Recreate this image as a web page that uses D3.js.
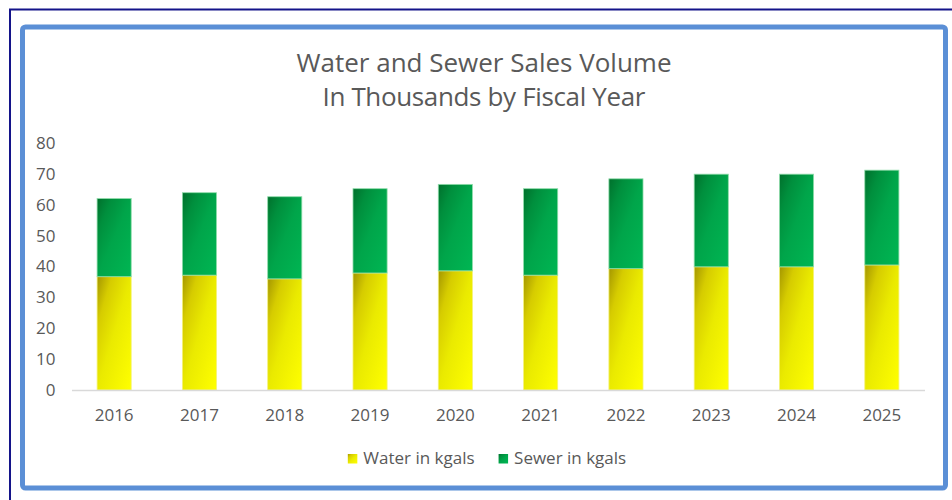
<!DOCTYPE html>
<html>
<head>
<meta charset="utf-8">
<script src="https://cdn.jsdelivr.net/npm/d3@7"></script>
<style>
  html, body { margin: 0; padding: 0; background: #ffffff; }
  svg { display: block; }
  text { font-family: "Open Sans", sans-serif; fill: #595959; }
</style>
</head>
<body>
<svg id="chart" width="952" height="500"></svg>
<script>
// ---- data ----
const years = ["2016", "2017", "2018", "2019", "2020", "2021", "2022", "2023", "2024", "2025"];
const water = [36.7, 37.2, 36.0, 37.9, 38.6, 37.2, 39.3, 39.9, 39.9, 40.5];
const sewer = [25.3, 26.7, 26.6, 27.3, 28.0, 28.0, 29.1, 30.0, 30.0, 30.7];
const seriesNames = ["Water in kgals", "Sewer in kgals"];
const yTicks = [0, 10, 20, 30, 40, 50, 60, 70, 80];
const titleLines = ["Water and Sewer Sales Volume", "In Thousands by Fiscal Year"];

// ---- layout ----
const svg = d3.select("#chart");
const plot = { left: 71.5, right: 924.5, top: 143, bottom: 390 };

// outer navy line (only top and left visible)
svg.append("rect")
  .attr("x", 10).attr("y", 9.5).attr("width", 960).attr("height", 520)
  .attr("fill", "none").attr("stroke", "#14148a").attr("stroke-width", 2);

// blue frame
svg.append("rect")
  .attr("x", 22.5).attr("y", 27).attr("width", 923).attr("height", 461)
  .attr("rx", 3).attr("ry", 3)
  .attr("fill", "#ffffff").attr("stroke", "#5b8fd6").attr("stroke-width", 5);

// gradients
const defs = svg.append("defs");
function grad(id, stops) {
  const g = defs.append("linearGradient").attr("id", id)
    .attr("x1", 0).attr("y1", 0).attr("x2", 1).attr("y2", 1);
  stops.forEach(s => g.append("stop").attr("offset", s[0]).attr("stop-color", s[1]));
}
grad("gWater", [[0, "#a49600"], [0.22, "#d6cc00"], [0.5, "#eaea00"], [1, "#ffff00"]]);
grad("gSewer", [[0, "#00702c"], [0.22, "#008f3d"], [0.5, "#00a54a"], [1, "#00b653"]]);

// scales
const x = d3.scaleBand().domain(years).range([plot.left, plot.right])
  .paddingInner(0.6).paddingOuter(0.3);
const y = d3.scaleLinear().domain([0, 80]).range([plot.bottom, plot.top]);

// stacked data
const rows = years.map((yr, i) => ({ year: yr, water: water[i], sewer: sewer[i] }));
const stack = d3.stack().keys(["water", "sewer"])(rows);
const fills = { water: "url(#gWater)", sewer: "url(#gSewer)" };
const strokes = { water: "#f4f27a", sewer: "#8fdcaa" };

svg.append("g").selectAll("g").data(stack).join("g")
  .each(function (layer) {
    d3.select(this).selectAll("rect").data(layer).join("rect")
      .attr("x", d => x(d.data.year))
      .attr("y", d => y(d[1]))
      .attr("width", x.bandwidth())
      .attr("height", d => y(d[0]) - y(d[1]))
      .attr("fill", fills[layer.key])
      .attr("stroke", strokes[layer.key])
      .attr("stroke-width", 0.8);
  });

// y axis labels
const yAxis = d3.axisLeft(y).tickValues(yTicks).tickSize(0).tickPadding(16);
const gy = svg.append("g").attr("transform", `translate(${plot.left},0)`).call(yAxis);
gy.select(".domain").remove();
gy.selectAll("text").style("font-size", "17px").attr("fill", "#595959")
  .style("font-family", "'Open Sans', sans-serif");

// x axis
const xAxis = d3.axisBottom(x).tickSize(0).tickPadding(19);
const gx = svg.append("g").attr("transform", `translate(0,${plot.bottom})`).call(xAxis);
gx.select(".domain").attr("stroke", "#d9d9d9").attr("stroke-width", 1.5);
gx.selectAll("text").style("font-size", "17px").attr("fill", "#595959")
  .style("font-family", "'Open Sans', sans-serif");

// title
const titleY = [72, 106];
const titleLen = [375, 323];
svg.append("g").selectAll("text").data(titleLines).join("text")
  .attr("x", 484).attr("y", (d, i) => titleY[i])
  .attr("text-anchor", "middle")
  .attr("textLength", (d, i) => titleLen[i])
  .attr("lengthAdjust", "spacing")
  .style("font-size", "26px")
  .text(d => d);

// legend
const legendFills = ["url(#gWater)", "url(#gSewer)"];
const legend = svg.append("g");
const items = legend.selectAll("g").data(seriesNames).join("g");
items.append("rect").attr("width", 9.5).attr("height", 9.5).attr("y", 454)
  .attr("fill", (d, i) => legendFills[i]);
items.append("text").attr("x", 15.5).attr("y", 463.5).style("font-size", "17px").text(d => d);
const widths = [];
items.each(function () { widths.push(this.getBBox().width); });
const gap = 24;
const total = d3.sum(widths) + gap * (widths.length - 1);
let cx = 487 - total / 2;
items.attr("transform", (d, i) => {
  const t = `translate(${cx},0)`;
  cx += widths[i] + gap;
  return t;
});
</script>
</body>
</html>
